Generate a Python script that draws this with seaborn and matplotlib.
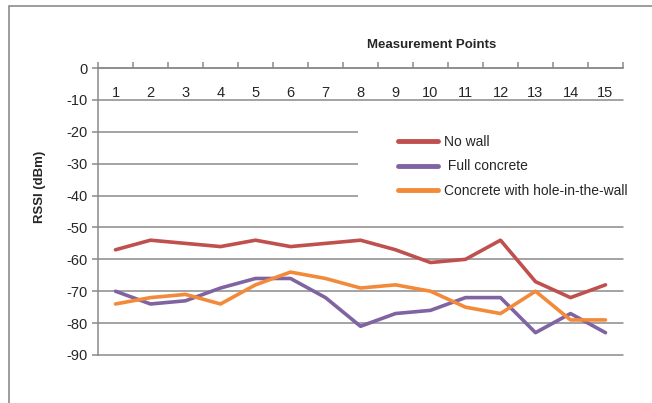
import matplotlib
matplotlib.use("Agg")
import matplotlib.pyplot as plt
from matplotlib.patches import Rectangle
import numpy as np
import pandas as pd
import seaborn as sns

# --------------------------------------------------
# DATA
# --------------------------------------------------

points = list(range(1, 16))
no_wall = [-57, -54, -55, -56, -54, -56, -55, -54, -57, -61, -60, -54, -67, -72, -68]
full_concrete = [-70, -74, -73, -69, -66, -66, -72, -81, -77, -76, -72, -72, -83, -77, -83]
hole_in_wall = [-74, -72, -71, -74, -68, -64, -66, -69, -68, -70, -75, -77, -70, -79, -79]
series_names = ["No wall", " Full concrete", "Concrete with hole-in-the-wall"]
y_ticks = list(range(0, -100, -10))

colors = ["#C0504D", "#8064A2", "#F38A3A"]

df = pd.DataFrame({
    "point": points * 3,
    "rssi": no_wall + full_concrete + hole_in_wall,
    "series": [series_names[0]] * 15 + [series_names[1]] * 15 + [series_names[2]] * 15,
})

# --------------------------------------------------
# PLOT
# --------------------------------------------------

sns.set_style("white")
plt.rcParams["font.family"] = ["Liberation Sans", "DejaVu Sans"]

fig = plt.figure(figsize=(6.52, 4.03), dpi=100)
ax = fig.add_axes([98 / 652, 1 - 355 / 403, 525 / 652, 287 / 403])

grid_c = "#8a8a8a"
for v in y_ticks:
    ax.axhline(v, color=grid_c, lw=1.1, zorder=1, clip_on=False)

# white block behind the legend hides part of the gridlines
ax.add_patch(Rectangle((0.495, 0.54), 0.6, 0.28, transform=ax.transAxes,
                       facecolor="white", edgecolor="none", zorder=2, clip_on=False))

sns.lineplot(data=df, x="point", y="rssi", hue="series", palette=colors,
             linewidth=2.6, ax=ax, zorder=3, legend=True)

ax.set_xlim(0.5, 15.5)
ax.set_ylim(-90, 0)
ax.set_xlabel("")
ax.set_ylabel("")

for s in ["right", "bottom"]:
    ax.spines[s].set_visible(False)
for s in ["left", "top"]:
    ax.spines[s].set_color(grid_c)
    ax.spines[s].set_linewidth(1.1)

ax.xaxis.tick_top()
ax.set_xticks(points)
ax.set_xticklabels([str(p) for p in points])
ax.set_xticks(np.arange(0.5, 16, 1), minor=True)
ax.tick_params(axis="x", which="major", length=0, pad=-23, labelsize=10.5)
ax.tick_params(axis="x", which="minor", top=True, length=4.5, width=1.1, color=grid_c)

ax.set_yticks(y_ticks)
ax.set_yticklabels([str(v) for v in y_ticks])
ax.tick_params(axis="y", which="major", left=True, length=4.5, width=1.1, color=grid_c,
               pad=3, labelsize=10.5)

leg = ax.legend(loc="upper left", bbox_to_anchor=(391 / 652, 1 - 128 / 403),
                bbox_transform=fig.transFigure, frameon=False, fontsize=10,
                handlelength=2.9, handletextpad=0.4, labelspacing=0.75, borderpad=0)
for line in leg.get_lines():
    line.set_linewidth(3.5)

fig.text(432 / 652, 1 - 45 / 403, "Measurement Points", ha="center", va="center",
         fontsize=9.5, fontweight="bold")
fig.text(40 / 652, 1 - 187 / 403, "RSSI (dBm)", ha="center", va="center",
         rotation=90, fontsize=9.5, fontweight="bold")

# outer chart border
fig.patches.append(Rectangle((9 / 652, -0.1), 1.2, 1 - 6 / 403 + 0.1, transform=fig.transFigure,
                             facecolor="none", edgecolor="#8c8c8c", lw=1.2, figure=fig))

fig.savefig("out.png", dpi=100)
plt.close(fig)
